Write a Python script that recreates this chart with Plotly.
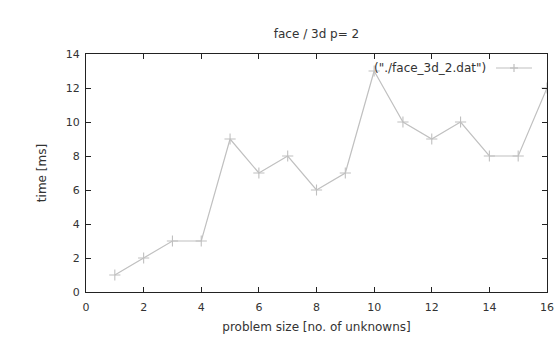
import plotly.graph_objects as go

x_vals = [1, 2, 3, 4, 5, 6, 7, 8, 9, 10, 11, 12, 13, 14, 15, 16]
y_vals = [1, 2, 3, 3, 9, 7, 8, 6, 7, 13, 10, 9, 10, 8, 8, 12]
x_ticks = [0, 2, 4, 6, 8, 10, 12, 14, 16]
y_ticks = [0, 2, 4, 6, 8, 10, 12, 14]
title_text = "face / 3d p= 2"
series_name = '("./face_3d_2.dat")'
x_title = "problem size [no. of unknowns]"
y_title = "time [ms]"

LINE = "#c0c0c0"
AXC = "#222222"
FONT = dict(family="DejaVu Sans", size=12, color="#333333")
TICKFONT = dict(family="DejaVu Sans", size=11, color="#333333")

fig = go.Figure()
fig.add_trace(go.Scatter(
    x=x_vals, y=y_vals, mode="lines+markers", name=series_name,
    line=dict(color=LINE, width=1.2),
    marker=dict(symbol="cross-thin-open", size=8, line=dict(color=LINE, width=1.1)),
    showlegend=False,
))

axis_common = dict(
    showgrid=False, zeroline=False, showline=True, linecolor=AXC, linewidth=1.2,
    mirror="allticks", ticks="inside", ticklen=5, tickcolor=AXC, tickwidth=1,
    tickfont=TICKFONT, automargin=False,
)
fig.update_xaxes(range=[0, 16], tickvals=x_ticks, ticktext=[str(v) for v in x_ticks],
                 title=dict(text=x_title, font=FONT, standoff=9), ticklabelstandoff=5,
                 **axis_common)
fig.update_yaxes(range=[0, 14], tickvals=y_ticks, ticktext=[str(v) for v in y_ticks],
                 title=dict(text=y_title, font=FONT, standoff=16), ticklabelstandoff=3,
                 **axis_common)

PW, PH = 461, 238
# legend (gnuplot-style: text then sample on the right)
ly = (292 - 68) / PH
fig.add_annotation(xref="paper", yref="paper", x=(488 - 86) / PW, y=ly,
                   xanchor="right", yanchor="middle", text=series_name,
                   showarrow=False, font=FONT)
lx0, lx1 = (496 - 86) / PW, (532 - 86) / PW
fig.add_shape(type="line", xref="paper", yref="paper", x0=lx0, x1=lx1, y0=ly, y1=ly,
              line=dict(color=LINE, width=1.2))
cx = (lx0 + lx1) / 2
fig.add_shape(type="line", xref="paper", yref="paper", x0=cx - 4 / PW, x1=cx + 4 / PW,
              y0=ly, y1=ly, line=dict(color=LINE, width=1.2))
fig.add_shape(type="line", xref="paper", yref="paper", x0=cx, x1=cx,
              y0=ly - 4 / PH, y1=ly + 4 / PH, line=dict(color=LINE, width=1.2))

fig.update_layout(
    width=560, height=340,
    margin=dict(l=86, r=13, t=54, b=48),
    paper_bgcolor="white", plot_bgcolor="white",
    title=dict(text=title_text, font=FONT, x=(86 + 547) / 2 / 560, xanchor="center",
               y=1 - 34 / 340, yanchor="middle"),
    font=FONT,
)
fig.write_html("out.html")
